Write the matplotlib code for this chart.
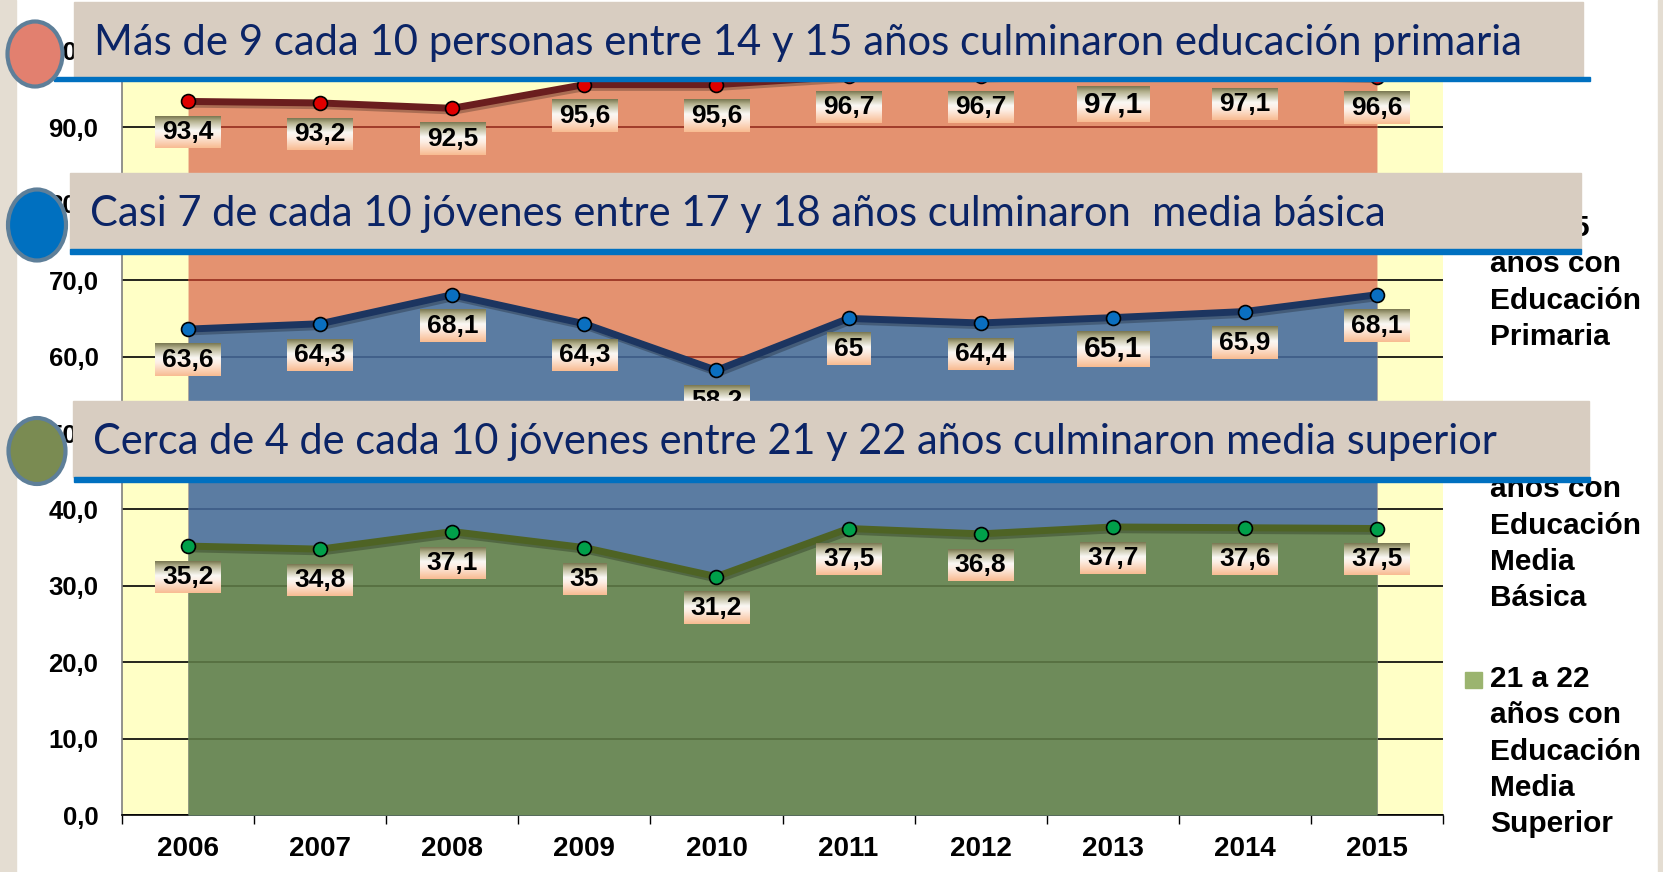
import numpy as np
import matplotlib
matplotlib.use('Agg')
import matplotlib.pyplot as plt
from matplotlib.patches import Rectangle, Ellipse
from matplotlib.ticker import FuncFormatter
import matplotlib.patheffects as pe

# ---------------- data ----------------
years = ['2006', '2007', '2008', '2009', '2010', '2011', '2012', '2013', '2014', '2015']
primaria = [93.4, 93.2, 92.5, 95.6, 95.6, 96.7, 96.7, 97.1, 97.1, 96.6]
media_basica = [63.6, 64.3, 68.1, 64.3, 58.2, 65, 64.4, 65.1, 65.9, 68.1]
media_superior = [35.2, 34.8, 37.1, 35, 31.2, 37.5, 36.8, 37.7, 37.6, 37.5]
y_ticks = [0, 10, 20, 30, 40, 50, 60, 70, 80, 90, 100]
legend_lines = [
    ['14 a 15', 'años con', 'Educación', 'Primaria'],
    ['17 a 18', 'años con', 'Educación', 'Media', 'Básica'],
    ['21 a 22', 'años con', 'Educación', 'Media', 'Superior'],
]
banner_texts = [
    'Más de 9 cada 10 personas entre 14 y 15 años culminaron educación primaria',
    'Casi 7 de cada 10 jóvenes entre 17 y 18 años culminaron  media básica',
    'Cerca de 4 de cada 10 jóvenes entre 21 y 22 años culminaron media superior',
]

plt.rcParams['font.family'] = ['Liberation Sans', 'DejaVu Sans']

W, H = 1663, 872
fig = plt.figure(figsize=(W / 100, H / 100), dpi=100)
fig.patch.set_facecolor('white')

AX_L, AX_R, AX_B, AX_T = 122, 1443, 815, 51
ax = fig.add_axes([AX_L / W, (H - AX_B) / H, (AX_R - AX_L) / W, (AX_B - AX_T) / H])
x = np.arange(len(years))
ax.set_facecolor('#FFFFC6')

series = [
    (primaria, '#E49270', '#6A1E1E', '#E00000', '#9A3424'),
    (media_basica, '#5B7CA2', '#1C3560', '#0A6FC0', '#3F5E88'),
    (media_superior, '#6E8B5A', '#4E6324', '#00A04A', '#566F40'),
]

ax.set_axisbelow(True)
ax.grid(axis='y', color='black', lw=1.2)
for k, (vals, fc, lc, mc, gc) in enumerate(series):
    z = 2 + 2 * k
    poly = ax.fill_between(x, 0, vals, color=fc, lw=0, zorder=z)
    gl = ax.hlines(y_ticks[1:], x[0], x[-1], colors=gc, lw=1.3, zorder=z + 0.5)
    gl.set_clip_path(poly.get_paths()[0], ax.transData)

for k, (vals, fc, lc, mc, gc) in enumerate(series):
    ax.plot(x, vals, color=lc, lw=5, zorder=15, solid_joinstyle='round',
            path_effects=[pe.SimpleLineShadow(offset=(1.5, -2), alpha=0.25), pe.Normal()])
    ax.plot(x, vals, ls='none', marker='o', ms=10, mfc=mc, mec='black', mew=1.2, zorder=16)

anns = []
for k, (vals, fc, lc, mc, gc) in enumerate(series):
    for i, v in enumerate(vals):
        s = f"{v:g}".replace('.', ',')
        size = 21.5 if (years[i] == '2013' and k < 2) else 19
        a = ax.annotate(s, (x[i], v), xytext=(0, -31), textcoords='offset pixels',
                        ha='center', va='center', fontsize=size, fontweight='bold',
                        color='black', zorder=18, annotation_clip=False)
        anns.append(a)

ax.set_xlim(-0.5, len(years) - 0.5)
ax.set_ylim(0, 100)
ax.set_yticks(y_ticks)
ax.yaxis.set_major_formatter(FuncFormatter(lambda v, p: f"{v:.1f}".replace('.', ',')))
ax.tick_params(axis='y', length=0, pad=17, labelsize=18.5)
ax.set_xticks(x, years)
ax.set_xticks(np.arange(-0.5, len(years)), minor=True)
ax.tick_params(axis='x', which='major', length=0, pad=15, labelsize=20)
ax.tick_params(axis='x', which='minor', length=6.5, width=1, color='black', direction='out')
for lab in ax.get_xticklabels() + ax.get_yticklabels():
    lab.set_fontweight('bold')
for sp in ['top', 'right']:
    ax.spines[sp].set_visible(False)
ax.spines['left'].set_color('#7F7F7F')
ax.spines['left'].set_linewidth(1.2)
ax.spines['bottom'].set_color('black')
ax.spines['bottom'].set_linewidth(1.2)

# ---------------- overlay (banners, legend) ----------------
ov = fig.add_axes([0, 0, 1, 1], zorder=10)
ov.set_xlim(0, W)
ov.set_ylim(H, 0)
ov.axis('off')
ov.patch.set_alpha(0)

ov.add_patch(Rectangle((0, 0), 16, H, color='#E4DDD2', zorder=0))
ov.add_patch(Rectangle((1658, 0), 5, H, color='#E4DDD2', zorder=0))

# legend (manual, evenly spaced entries)
legend_colors = ['#E8967A', '#4F81BD', '#9BB46F']
first_baselines = [236, 461, 687]
for k, lines in enumerate(legend_lines):
    b0 = first_baselines[k]
    ov.add_patch(Rectangle((1465, b0 - 15), 17, 16, color=legend_colors[k], zorder=1))
    for j, t in enumerate(lines):
        ov.text(1490, b0 + j * 36.3, t, fontsize=21.5, fontweight='bold', color='black',
                ha='left', va='baseline', zorder=1)

banners = [
    # rect x0, x1, y0, y1 ; line x0, x1, y0, y1 ; ellipse cx, cy, w, h ; text x, baseline, target width
    ((74, 1583, 2, 77), (54, 1590, 77, 81.5), (35, 54, 55, 65), (94, 55, 1429)),
    ((70, 1581, 173, 249), (70, 1581, 249, 254), (37, 225, 58, 71), (90, 226, 1295)),
    ((73, 1589, 401, 477), (74, 1590, 477, 482), (37, 451, 57, 66), (93, 454, 1410)),
]
circle_fill = ['#E2806F', '#0070C0', '#7A8B52']
btexts = []
for k, (rr, l, e, t) in enumerate(banners):
    ov.add_patch(Rectangle((rr[0], rr[2]), rr[1] - rr[0], rr[3] - rr[2], color='#D8CDC1', zorder=3))
    ov.add_patch(Rectangle((l[0], l[2]), l[1] - l[0], l[3] - l[2], color='#0070C0', zorder=3.5))
    ov.add_patch(Ellipse((e[0], e[1]), e[2], e[3], facecolor=circle_fill[k],
                         edgecolor='#5E7F99', lw=3, zorder=5))
    tx = ov.text(t[0], t[1], banner_texts[k], fontsize=28, family=['Lato', 'DejaVu Sans'],
                 color='#0B2466', ha='left', va='baseline', zorder=6)
    btexts.append((tx, t[2]))

# fit banner text widths
for _ in range(2):
    fig.canvas.draw()
    r = fig.canvas.get_renderer()
    for tx, target in btexts:
        w = tx.get_window_extent(r).width
        tx.set_fontsize(tx.get_fontsize() * target / w)

fig.canvas.draw()
r = fig.canvas.get_renderer()

# gradient label boxes
stops = np.array([0.0, 0.15, 0.45, 0.6, 1.0])
cols = np.array([[122, 120, 82], [180, 177, 142], [250, 248, 244], [253, 238, 228], [248, 188, 146]]) / 255.0
t = np.linspace(0, 1, 64)
grad = np.stack([np.interp(t, stops, cols[:, c]) for c in range(3)], axis=-1)[:, None, :]
inv = ax.transData.inverted()
for a in anns:
    bb = a.get_window_extent(r)
    (dx0, dy0) = inv.transform((bb.x0 - 7, bb.y0 - 4))
    (dx1, dy1) = inv.transform((bb.x1 + 7, bb.y1 + 4))
    ax.imshow(grad, extent=[dx0, dx1, dy0, dy1], origin='upper', aspect='auto',
              zorder=17, interpolation='bilinear', clip_on=False)

ax.set_xlim(-0.5, len(years) - 0.5)
ax.set_ylim(0, 100)

fig.savefig('out.png', dpi=100)
